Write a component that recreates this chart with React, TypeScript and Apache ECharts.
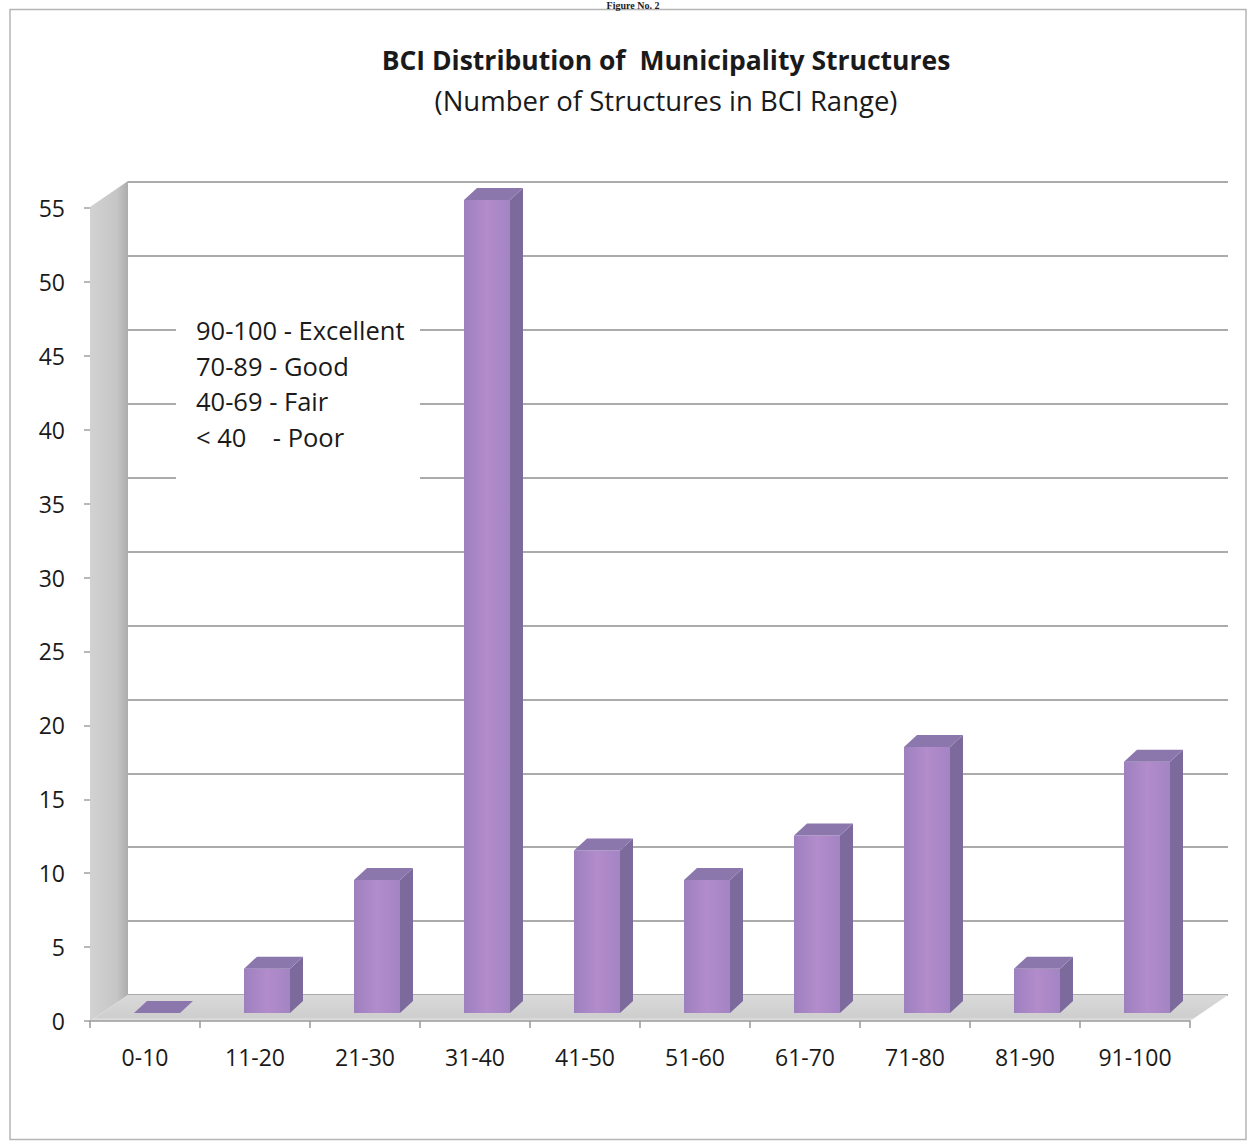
import React, { useEffect, useRef } from "react";
import * as echarts from "echarts";

const categories = ["0-10", "11-20", "21-30", "31-40", "41-50", "51-60", "61-70", "71-80", "81-90", "91-100"];
const counts = [0, 3, 9, 55, 11, 9, 12, 18, 3, 17];
const yMin = 0;
const yMax = 55;
const yStep = 5;
const titleText = "BCI Distribution of  Municipality Structures";
const subtitleText = "(Number of Structures in BCI Range)";
const figureText = "Figure No. 2";
const legendLines = ["90-100 - Excellent", "70-89 - Good", "40-69 - Fair", "< 40    - Poor"];

const FONT = "'Open Sans', 'Noto Sans', sans-serif";

export default function App() {
  const ref = useRef<HTMLDivElement>(null);
  useEffect(() => {
    if (!ref.current) return;
    const chart = echarts.init(ref.current, undefined, { renderer: "svg" });
    const W = 1250;
    const H = 1144;
    const front = { left: 90, right: W - 1190, top: 208, bottom: H - 1021 };
    const back = { left: 128, right: W - 1228, top: 182, bottom: H - 995 };

    const barW = 46;
    const offX = 12;
    const offY = -8;
    const dX = 13;
    const dY = -12;

    const option: any = {
      animation: false,
      backgroundColor: "#ffffff",
      grid: [
        { ...front, containLabel: false },
        { ...back, containLabel: false },
      ],
      xAxis: [
        {
          type: "category",
          gridIndex: 0,
          data: categories,
          boundaryGap: true,
          axisLine: { show: true, lineStyle: { color: "#9a9a9a", width: 1.5 } },
          axisTick: { show: true, length: 7, alignWithLabel: false, lineStyle: { color: "#9a9a9a", width: 1.5 } },
          axisLabel: { color: "#1a1a1a", fontSize: 23, fontFamily: FONT, margin: 24 },
          splitLine: { show: false },
          z: 3,
        },
        {
          type: "category",
          gridIndex: 1,
          data: categories,
          show: false,
        },
      ],
      yAxis: [
        {
          type: "value",
          gridIndex: 0,
          min: yMin,
          max: yMax,
          interval: yStep,
          axisLine: { show: false },
          axisTick: { show: true, length: 6, lineStyle: { color: "#a0a0a0", width: 1.5 } },
          axisLabel: { color: "#1a1a1a", fontSize: 23, fontFamily: FONT, margin: 25 },
          splitLine: { show: false },
        },
        {
          type: "value",
          gridIndex: 1,
          min: yMin,
          max: yMax,
          interval: yStep,
          axisLine: { show: false },
          axisTick: { show: false },
          axisLabel: { show: false },
          splitLine: { show: true, lineStyle: { color: "#8f8f8f", width: 1.7 } },
        },
      ],
      graphic: [
        {
          type: "text",
          x: 633,
          y: 0,
          z: 20,
          style: {
            text: figureText,
            font: "bold 10px 'Liberation Serif', serif",
            fill: "#222",
            align: "center",
            verticalAlign: "top",
          },
        },
        {
          type: "rect",
          z: 0,
          shape: { x: 10, y: 9.5, width: 1236, height: 1130 },
          style: { fill: "none", stroke: "#b5b5b5", lineWidth: 1.5 },
        },
        {
          type: "text",
          x: 666,
          y: 60,
          z: 20,
          style: {
            text: titleText,
            font: `bold 26.5px ${FONT}`,
            fill: "#1a1a1a",
            align: "center",
            verticalAlign: "middle",
          },
        },
        {
          type: "text",
          x: 666,
          y: 100,
          z: 20,
          style: {
            text: subtitleText,
            font: `27.5px ${FONT}`,
            fill: "#1a1a1a",
            align: "center",
            verticalAlign: "middle",
          },
        },
        {
          type: "polygon",
          z: 1,
          shape: { points: [[90, 207], [128, 181], [128, 995], [90, 1021]] },
          style: {
            fill: new echarts.graphic.LinearGradient(0, 0, 1, 0, [
              { offset: 0, color: "#d2d2d2" },
              { offset: 0.7, color: "#c6c6c6" },
              { offset: 1, color: "#acacac" },
            ]),
          },
        },
        {
          type: "polygon",
          z: 1,
          shape: { points: [[90, 1021], [1190, 1021], [1228, 995], [128, 995]] },
          style: {
            fill: new echarts.graphic.LinearGradient(0, 0, 0, 1, [
              { offset: 0, color: "#d9d9d9" },
              { offset: 0.85, color: "#cecece" },
              { offset: 1, color: "#e6e6e6" },
            ]),
          },
        },
        {
          type: "rect",
          z: 10,
          shape: { x: 176, y: 302, width: 244, height: 186 },
          style: { fill: "#ffffff" },
        },
        ...legendLines.map((t, i) => ({
          type: "text",
          x: 196,
          y: 330 + i * 35.7,
          z: 11,
          style: {
            text: t,
            font: `25.5px ${FONT}`,
            fill: "#1a1a1a",
            align: "left",
            verticalAlign: "middle",
          },
        })),
      ],
      series: [
        {
          type: "custom",
          xAxisIndex: 0,
          yAxisIndex: 0,
          z: 5,
          clip: false,
          data: categories.map((c, i) => [i, counts[i]]),
          encode: { x: 0, y: 1 },
          renderItem: (params: any, api: any) => {
            const idx = api.value(0);
            const val = api.value(1);
            const pTop = api.coord([idx, val]);
            const pBot = api.coord([idx, 0]);
            const cx = pTop[0] + offX;
            const l = cx - barW / 2;
            const r = cx + barW / 2;
            const yT = pTop[1] + offY;
            const yB = pBot[1] + offY;
            const children: any[] = [];
            if (yB - yT > 0.5) {
              children.push({
                type: "rect",
                shape: { x: l, y: yT, width: barW, height: yB - yT },
                style: {
                  fill: new echarts.graphic.LinearGradient(0, 0, 1, 0, [
                    { offset: 0, color: "#9e80bf" },
                    { offset: 0.5, color: "#b28ccb" },
                    { offset: 1, color: "#a484c3" },
                  ]),
                },
              });
              children.push({
                type: "polygon",
                shape: { points: [[r, yB], [r + dX, yB + dY], [r + dX, yT + dY], [r, yT]] },
                style: { fill: "#7d6a9d" },
              });
            }
            children.push({
              type: "polygon",
              shape: { points: [[l, yT], [l + dX, yT + dY], [r + dX, yT + dY], [r, yT]] },
              style: { fill: "#8c77ad" },
            });
            return { type: "group", children };
          },
        },
      ],
    };
    chart.setOption(option);
    return () => chart.dispose();
  }, []);
  return (
    <div
      ref={ref}
      style={{ position: "fixed", left: 0, top: 0, width: 1250, height: 1144, background: "#fff" }}
    />
  );
}
